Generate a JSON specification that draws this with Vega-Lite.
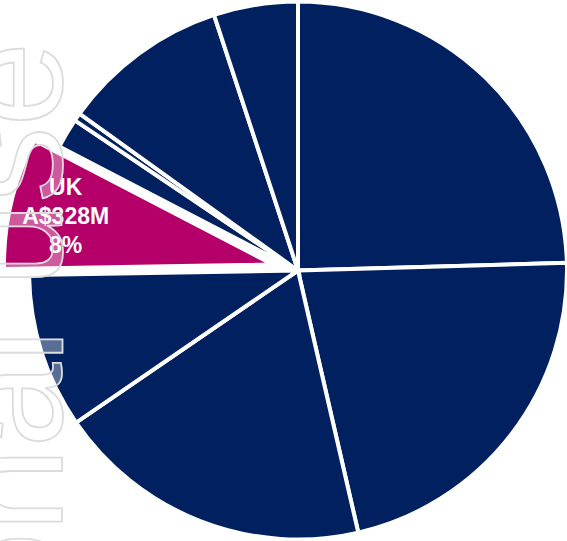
{
  "$schema": "https://vega.github.io/schema/vega-lite/v6.json",
  "width": 538,
  "height": 541,
  "autosize": {"type": "none"},
  "padding": {"left": 29, "top": 0, "right": 0, "bottom": 0},
  "background": "white",
  "view": {"stroke": null},
  "datasets": {
    "slices": [
      {"i": 1, "region": "Segment 1", "value": 1020, "label": ""},
      {"i": 2, "region": "Segment 2", "value": 908, "label": ""},
      {"i": 3, "region": "Segment 3", "value": 791, "label": ""},
      {"i": 4, "region": "Segment 4", "value": 386, "label": ""},
      {"i": 5, "region": "UK", "value": 328, "label": "UK\nA$328M\n8%"},
      {"i": 6, "region": "Segment 6", "value": 75, "label": ""},
      {"i": 7, "region": "Segment 7", "value": 20, "label": ""},
      {"i": 8, "region": "Segment 8", "value": 417, "label": ""},
      {"i": 9, "region": "Segment 9", "value": 210, "label": ""}
    ],
    "mark": [{"t": "For personal use"}]
  },
  "layer": [
    {
      "data": {"name": "slices"},
      "mark": {"type": "arc", "outerRadius": 269, "stroke": "white", "strokeWidth": 4},
      "encoding": {
        "theta": {"field": "value", "type": "quantitative", "stack": true},
        "order": {"field": "i", "type": "quantitative"},
        "fill": {"condition": {"test": "datum.region === 'UK'", "value": "#B5006A"}, "value": "#002060"},
        "opacity": {"condition": {"test": "datum.region === 'UK'", "value": 0}, "value": 1}
      }
    },
    {
      "data": {"name": "slices"},
      "mark": {"type": "arc", "outerRadius": 269, "stroke": "white", "strokeWidth": 4, "xOffset": -25, "yOffset": -6},
      "encoding": {
        "theta": {"field": "value", "type": "quantitative", "stack": true},
        "order": {"field": "i", "type": "quantitative"},
        "fill": {"value": "#B5006A"},
        "opacity": {"condition": {"test": "datum.region === 'UK'", "value": 1}, "value": 0}
      }
    },
    {
      "data": {"name": "slices"},
      "mark": {"type": "text", "radius": 213, "xOffset": -25, "yOffset": -6, "dy": -28, "lineBreak": "\n", "lineHeight": 29, "fontSize": 23, "fontWeight": "bold", "font": "Liberation Sans", "fill": "white", "align": "center", "baseline": "middle"},
      "encoding": {
        "theta": {"field": "value", "type": "quantitative", "stack": true},
        "order": {"field": "i", "type": "quantitative"},
        "text": {"field": "label"}
      }
    },
    {
      "data": {"name": "mark"},
      "mark": {"type": "text", "x": 33, "y": 42, "angle": 270, "align": "right", "baseline": "alphabetic", "font": "Liberation Sans", "fontSize": 152, "fill": "white", "fillOpacity": 0.35, "stroke": "#dcdcdc", "strokeWidth": 1.8},
      "encoding": {"text": {"field": "t"}}
    }
  ]
}
